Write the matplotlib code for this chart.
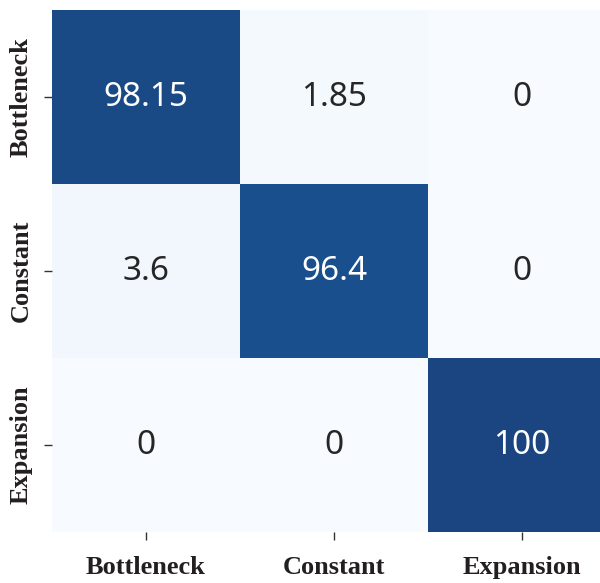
import numpy as np
import matplotlib
matplotlib.use("Agg")
import matplotlib.pyplot as plt
import seaborn as sns

classes = ['Bottleneck', 'Constant', 'Expansion']
cm = np.array([[98.15, 1.85, 0],
               [3.6, 96.4, 0],
               [0, 0, 100]])
annot = [['98.15', '1.85', '0'],
         ['3.6', '96.4', '0'],
         ['0', '0', '100']]

fig = plt.figure(figsize=(6, 5.83), dpi=100)
ax = fig.add_axes([52/600, 1 - 532/583, 564/600, 522/583])

sns.heatmap(cm, annot=np.array(annot), fmt='', cmap='Blues', cbar=False,
            vmin=0, vmax=103, alpha=0.93, ax=ax,
            annot_kws={'fontsize': 24, 'family': 'Noto Sans'})

lab_font = dict(fontsize=19, fontweight='bold', family='Liberation Serif', color='#231f20')
ax.set_xticks(np.arange(3) + 0.5)
ax.set_yticks(np.arange(3) + 0.5)
ax.set_xticklabels(classes, **lab_font)
ax.set_yticklabels(classes, rotation=90, va='center', **lab_font)
ax.tick_params(axis='both', length=6, width=1, color='#333333')
ax.tick_params(axis='x', pad=11)
ax.tick_params(axis='y', pad=8)

fig.savefig('out.png', dpi=100)
